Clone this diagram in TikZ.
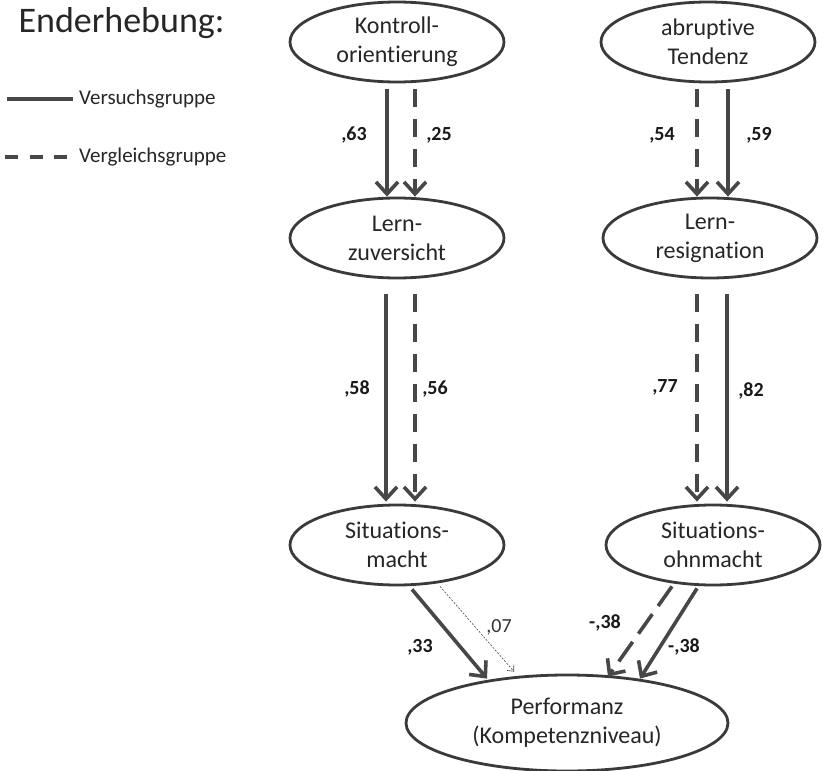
\documentclass[tikz,border=0pt]{standalone}
\usepackage{fontspec}
\setmainfont{Carlito}[Ligatures=NoCommon]
\usetikzlibrary{arrows.meta}
\usetikzlibrary{calc}
\usetikzlibrary{shapes.geometric}
\usetikzlibrary{positioning}
\definecolor{pfadgrau}{HTML}{474747}
\definecolor{randgrau}{HTML}{3A3A3A}

\begin{document}
\begin{tikzpicture}[
            x=1pt, y=-1pt,
            konstrukt/.style={
                ellipse, draw=randgrau, line width=2.8pt,
                minimum width=214pt, minimum height=80pt, inner sep=0pt,
                align=center, text=black!85, font=\fontsize{24}{29}\selectfont,
            },
            koeff/.style={
                font=\bfseries\fontsize{20}{24}\selectfont, text=black!90,
            },
            versuch/.style={line width=3.6pt, draw=pfadgrau,
                -{Straight Barb[length=12pt, width=22pt]}},
            vergleich/.style={versuch, dash pattern=on 18pt off 12pt},
            schwach/.style={line width=0.6pt, draw=pfadgrau,
                dash pattern=on 2pt off 1.5pt,
                -{Straight Barb[length=5pt, width=9pt]}},
            legende/.style={anchor=west, text=black!85,
                font=\fontsize{21}{25}\selectfont},
        ]
            \useasboundingbox (0,0) rectangle (823,771);

            % --- title and legend ---
            \node[anchor=base west, text=black!85, font=\fontsize{36}{42}\selectfont]
                (titel) at (15,32) {Enderhebung:};
            \coordinate (vsStart) at (7,99);
            \node[legende, inner xsep=6pt] (vsText) at (73,99) {Versuchsgruppe};
            \draw[line width=3.6pt, pfadgrau] (vsStart) -- (vsText.west);
            \coordinate (vgStart) at (5,157);
            \node[legende, inner xsep=12pt] (vgText) at (67,157) {Vergleichsgruppe};
            \draw[line width=3.6pt, pfadgrau, dash pattern=on 13pt off 11.5pt]
                (vgStart) -- (vgText.west);

            % --- constructs ---
            \node[konstrukt] (kontr) at (397,42) {Kontroll-\\orientierung};
            \node[konstrukt] (abrupt) at (708,42) {abruptive\\Tendenz};
            \node[konstrukt] (zuvers) at (397,238) {Lern-\\zuversicht};
            \node[konstrukt] (resign) at (710,238) {Lern-\\resignation};
            \node[konstrukt] (smacht) at (397,545) {Situations-\\macht};
            \node[konstrukt] (sohn) at (713,545) {Situations-\\ohnmacht};
            \node[konstrukt, minimum width=322pt, minimum height=96pt]
                (perf) at (567,723) {Performanz\\(Kompetenzniveau)};

            % --- left chain ---
            \draw[versuch] ($(kontr.south)+(-10,6)$) -- ($(zuvers.north)+(-10,0)$);
            \draw[vergleich] ($(kontr.south)+(18,6)$) -- ($(zuvers.north)+(18,0)$);
            \draw[versuch] ($(zuvers.south)+(-11,15)$) -- ($(smacht.north)+(-11,-2)$);
            \draw[vergleich] ($(zuvers.south)+(18,15)$) -- ($(smacht.north)+(18,-2)$);

            % --- right chain ---
            \draw[vergleich] ($(abrupt.south)+(-11,6)$) -- ($(resign.north)+(-13,0)$);
            \draw[versuch] ($(abrupt.south)+(20,6)$) -- ($(resign.north)+(18,0)$);
            \draw[vergleich] ($(resign.south)+(-13,15)$) -- ($(sohn.north)+(-16,-2)$);
            \draw[versuch] ($(resign.south)+(17,15)$) -- ($(sohn.north)+(14,-2)$);

            % --- paths to performance ---
            \draw[versuch] ($(smacht.south)+(15,3)$) -- ($(perf.north)+(-80,5)$);
            \draw[schwach] ($(smacht.south)+(43,0)$) -- ($(perf.north)+(-53,-2)$);
            \draw[vergleich, dash pattern=on 24pt off 10pt]
                ($(sohn.south)+(-41,0)$) -- ($(perf.north)+(41,3)$);
            \draw[versuch] ($(sohn.south)+(-16,2)$) -- ($(perf.north)+(73,5)$);

            % --- coefficients ---
            \node[koeff] (k63) at (354,135) {,63};
            \node[koeff] (k25) at (439,135) {,25};
            \node[koeff] (k54) at (662,135) {,54};
            \node[koeff] (k59) at (759,135) {,59};
            \node[koeff] (k58) at (357,389) {,58};
            \node[koeff] (k56) at (435,389) {,56};
            \node[koeff] (k77) at (665,387) {,77};
            \node[koeff] (k82) at (751,391) {,82};
            \node[koeff] (k33) at (420,647) {,33};
            \node[koeff, font=\fontsize{20}{24}\selectfont, text=black!80]
                (k07) at (499,627) {,07};
            \node[koeff] (k38a) at (605,623) {-,38};
            \node[koeff] (k38b) at (684,647) {-,38};
        \end{tikzpicture}
\end{document}
